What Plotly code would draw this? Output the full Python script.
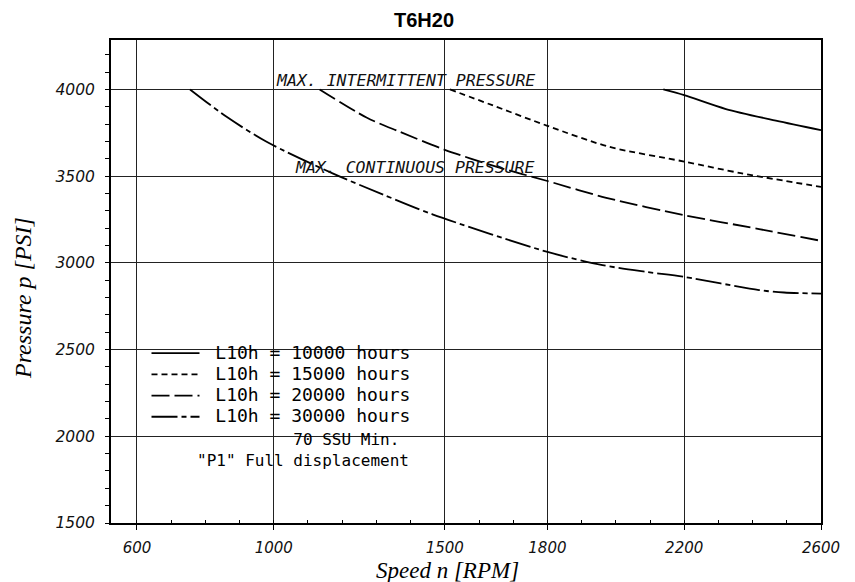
import plotly.graph_objects as go

# ---- data ----
series_names = ["L10h = 10000 hours", "L10h = 15000 hours",
                "L10h = 20000 hours", "L10h = 30000 hours"]

speed_10000 = [2139, 2200, 2322, 2468, 2600]
pres_10000 = [4000, 3967, 3887, 3820, 3765]

speed_15000 = [1515, 1639, 1800, 1981, 2200, 2369, 2600]
pres_15000 = [4000, 3909, 3790, 3669, 3584, 3516, 3438]

speed_20000 = [1134, 1271, 1368, 1500, 1650, 1800, 1972, 2200, 2419, 2600]
pres_20000 = [4000, 3838, 3756, 3652, 3555, 3472, 3375, 3275, 3195, 3127]

speed_30000 = [755, 862, 979, 1172, 1318, 1464, 1800, 1961, 2088, 2200, 2419, 2492, 2600]
pres_30000 = [4000, 3842, 3698, 3516, 3395, 3280, 3063, 2987, 2948, 2919, 2843, 2829, 2823]

x_tick_vals = [600, 1000, 1500, 1800, 2200, 2600]
y_tick_vals = [1500, 2000, 2500, 3000, 3500, 4000]

title_text = "T6H20"
x_title = "Speed n [RPM]"
y_title = "Pressure p [PSI]"
label_intermittent = "MAX. INTERMITTENT PRESSURE"
label_continuous = "MAX. CONTINUOUS PRESSURE"
note_lines = ["70 SSU Min.", "\"P1\" Full displacement"]

# ---- styles ----
dashes = ["solid", "6px,4px", "18px,5px", "26px,4px,5px,4px"]
xs = [speed_10000, speed_15000, speed_20000, speed_30000]
ys = [pres_10000, pres_15000, pres_20000, pres_30000]

fig = go.Figure()
for name, x, y, d in zip(series_names, xs, ys, dashes):
    fig.add_trace(go.Scatter(
        x=x, y=y, mode="lines",
        line=dict(color="black", width=1.8, dash=d, shape="spline", smoothing=0.8),
        name='<span style="font-size:18px">\u00a0' + name + '</span>',
        hoverinfo="skip"))

mono = "DejaVu Sans Mono"
# the page adds an 8px body margin; margins below compensate for it
PL, PT, PW, PH = 111, 40, 710, 483  # plot box in window pixels


def px_x(px):
    return (px - PL) / PW


def px_y(py):
    return (PT + PH - py) / PH


fig.update_layout(
    width=855, height=582,
    margin=dict(l=103, r=42, t=32, b=67),
    paper_bgcolor="white", plot_bgcolor="white",
    title=dict(text="<b>" + title_text + "</b>", x=416 / 855, xref="container", xanchor="center",
               y=1 - 12 / 582, yanchor="middle",
               font=dict(family="Liberation Sans", size=20, color="black")),
    showlegend=True,
    legend=dict(x=0.05, y=0.384, xanchor="left", yanchor="top",
                bgcolor="rgba(0,0,0,0)", borderwidth=0,
                font=dict(family=mono, size=14, color="black"),
                itemwidth=48, tracegroupgap=0),
    xaxis=dict(range=[524, 2600], tickmode="array", tickvals=x_tick_vals,
               ticktext=[str(v) for v in x_tick_vals],
               showgrid=True, gridcolor="#222", gridwidth=1,
               showline=True, linecolor="black", linewidth=2, mirror=True,
               ticks="outside", ticklen=5, tickcolor="black", tickwidth=1,
               tickfont=dict(family="DejaVu Sans", size=15, color="#111", style="italic"),
               ticklabelstandoff=5,
               minor=dict(tick0=600, dtick=100, ticks="inside", ticklen=3,
                          tickcolor="black", tickwidth=1, showgrid=False),
               zeroline=False),
    yaxis=dict(range=[1500, 4285], tickmode="array", tickvals=y_tick_vals,
               ticktext=[str(v) for v in y_tick_vals],
               showgrid=True, gridcolor="#222", gridwidth=1,
               showline=True, linecolor="black", linewidth=2, mirror=True,
               ticks="outside", ticklen=4, tickcolor="black", tickwidth=1,
               tickfont=dict(family="DejaVu Sans", size=15.5, color="#111", style="italic"),
               ticklabelstandoff=7,
               minor=dict(tick0=1500, dtick=100, ticks="outside", ticklen=4,
                          tickcolor="black", tickwidth=1, showgrid=False),
               zeroline=False),
)

# white box behind the legend block
fig.add_shape(type="rect", xref="paper", yref="paper",
              x0=px_x(138), x1=px_x(447), y0=px_y(477), y1=px_y(330),
              fillcolor="white", line=dict(width=0), layer="between")

# limit labels
fig.add_annotation(x=1002, y=4000, xref="x", yref="y", text=label_intermittent,
                   xanchor="left", yanchor="bottom", showarrow=False, yshift=-3,
                   font=dict(family=mono, size=16.5, color="#111", style="italic"))
fig.add_annotation(x=1055, y=3500, xref="x", yref="y", text=label_continuous,
                   xanchor="left", yanchor="bottom", showarrow=False, yshift=-3,
                   font=dict(family=mono, size=16.5, color="#111", style="italic"))

# notes under legend (one two-line block)
notes_text = "\u00a0" * 10 + note_lines[0] + "<br>" + note_lines[1]
fig.add_annotation(x=px_x(196), y=px_y(450), xref="paper", yref="paper",
                   text=notes_text, xanchor="left", yanchor="middle", align="left",
                   showarrow=False, borderpad=0,
                   font=dict(family=mono, size=16, color="black"))

# axis titles
fig.add_annotation(x=px_x(447), y=px_y(570), xref="paper", yref="paper",
                   text=x_title, xanchor="center", yanchor="middle", showarrow=False,
                   borderpad=0, font=dict(family="Liberation Serif", size=23, color="black", style="italic"))
fig.add_annotation(x=px_x(23), y=px_y(298), xref="paper", yref="paper",
                   text=y_title, xanchor="center", yanchor="middle", showarrow=False, textangle=-90,
                   font=dict(family="Liberation Serif", size=24, color="black", style="italic"))

fig.write_html("out.html")
